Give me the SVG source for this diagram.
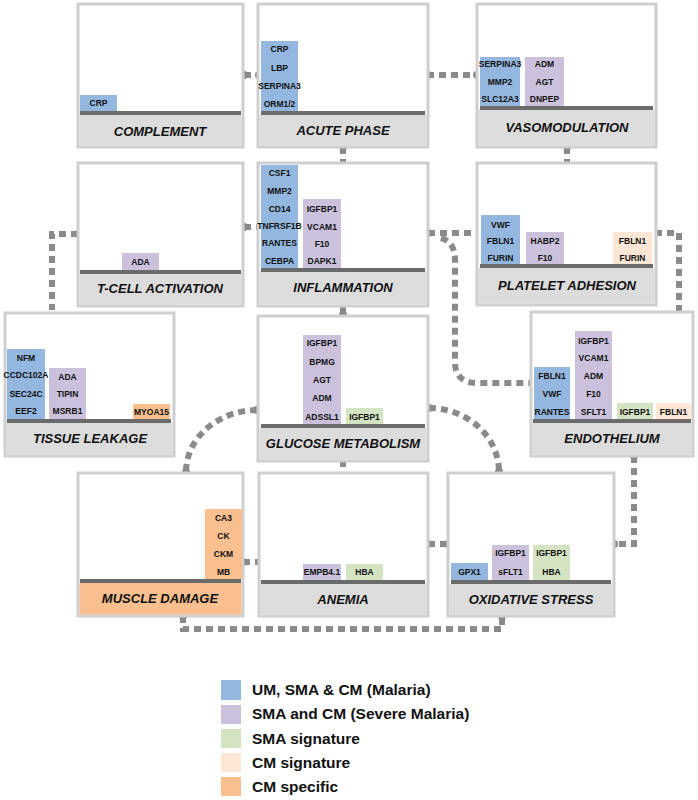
<svg xmlns="http://www.w3.org/2000/svg" width="698" height="800" viewBox="0 0 698 800">
<style>
.box{fill:#fff;stroke:#cfcfcf;stroke-width:3}
.lab{fill:#dcdcdc}
.base{fill:#6b6b6b}
.t{font-family:"Liberation Sans",Arial,sans-serif;font-weight:bold;font-size:8.5px;fill:#111;text-anchor:middle}
.L{font-family:"Liberation Sans",Arial,sans-serif;font-weight:bold;font-style:italic;font-size:13px;fill:#111;text-anchor:middle}
.lg{font-family:"Liberation Sans",Arial,sans-serif;font-weight:bold;font-size:15.5px;fill:#111}
.b{fill:#93b7df}.p{fill:#cbc1dc}.g{fill:#d4e4c3}.c{fill:#fde6d6}.o{fill:#f9bf8e}
.con{fill:none;stroke:#8a8a8a;stroke-width:6;stroke-dasharray:7 5}
.d{fill:#8a8a8a}
</style>
<g id="connectors">
<path class="con" d="M244 75 H260"/>
<path class="con" d="M427 75 H478"/>
<path class="con" d="M343 147 V162"/>
<path class="con" d="M567 147 V162"/>
<path class="con" d="M244 227 H260"/>
<path class="con" d="M78 234 H52 V310"/>
<path class="con" d="M428 233 H480"/>
<path class="con" d="M441 238 Q455 242 455 260 V362 Q455 383 478 383 H531"/>
<path class="con" d="M655 233 H679 V312"/>
<path class="con" d="M343 307 V315"/>
<path class="con" d="M343 460 V472"/>
<path class="con" d="M257 410 A72 62 0 0 0 186 472"/>
<path class="con" d="M429 408 A70 64 0 0 1 499 472"/>
<path class="con" d="M634 456 V544 H614"/>
<path class="con" d="M428 544 H448"/>
<path class="con" d="M243 562 H260"/>
<path class="con" d="M183 616 V629 H502 V616"/>
<g class="d">
<circle cx="244" cy="75" r="4"/><circle cx="259" cy="75" r="4"/>
<circle cx="428" cy="75" r="4"/><circle cx="477" cy="75" r="4"/>
<circle cx="343" cy="147" r="4"/><circle cx="567" cy="147" r="4"/>
<circle cx="244" cy="227" r="4"/><circle cx="78" cy="234" r="4"/>
<circle cx="428" cy="233" r="4"/><circle cx="655" cy="233" r="4"/>
<circle cx="343" cy="315" r="4"/><circle cx="343" cy="460" r="4"/>
<circle cx="257" cy="410" r="4"/><circle cx="186" cy="472" r="4"/>
<circle cx="429" cy="408" r="4"/><circle cx="499" cy="472" r="4"/>
<circle cx="634" cy="456" r="4"/><circle cx="614" cy="544" r="4"/>
<circle cx="428" cy="544" r="4"/><circle cx="448" cy="544" r="4"/>
<circle cx="243" cy="562" r="4"/><circle cx="260" cy="562" r="4"/>
<circle cx="183" cy="616" r="4"/><circle cx="502" cy="616" r="4"/>
</g>
</g>
<g id="complement">
<rect class="box" x="78" y="4" width="165" height="143"/>
<rect class="lab" x="79.5" y="114" width="162" height="31.5"/>
<rect class="b" x="80" y="95" width="37" height="16"/><text class="t" x="98.5" y="106">CRP</text>
<rect class="base" x="80" y="111" width="161" height="4"/>
<text class="L" x="160" y="136">COMPLEMENT</text>
</g>
<g id="acute-phase">
<rect class="box" x="258" y="4" width="170" height="143"/>
<rect class="lab" x="259.5" y="114" width="167" height="31.5"/>
<rect class="b" x="261" y="41" width="37" height="70"/>
<text class="t" x="279.5" y="52">CRP</text><text class="t" x="279.5" y="71">LBP</text><text class="t" x="279.5" y="89">SERPINA3</text><text class="t" x="279.5" y="107">ORM1/2</text>
<rect class="base" x="261" y="111" width="164" height="4"/>
<text class="L" x="343" y="135">ACUTE PHASE</text>
</g>
<g id="vasomodulation">
<rect class="box" x="477" y="4" width="179" height="143"/>
<rect class="lab" x="478.5" y="109" width="176" height="36.5"/>
<rect class="b" x="480" y="57" width="40" height="49"/>
<text class="t" x="500" y="67">SERPINA3</text><text class="t" x="500" y="85">MMP2</text><text class="t" x="500" y="102">SLC12A3</text>
<rect class="p" x="525" y="57" width="39" height="49"/>
<text class="t" x="544.5" y="67">ADM</text><text class="t" x="544.5" y="85">AGT</text><text class="t" x="544.5" y="102">DNPEP</text>
<rect class="base" x="480" y="106" width="173" height="4"/>
<text class="L" x="567" y="132">VASOMODULATION</text>
</g>
<g id="t-cell-activation">
<rect class="box" x="78" y="163" width="165" height="143"/>
<rect class="lab" x="79.5" y="273" width="162" height="31.5"/>
<rect class="p" x="122" y="253" width="37" height="17"/><text class="t" x="140.5" y="265">ADA</text>
<rect class="base" x="80" y="270" width="161" height="4"/>
<text class="L" x="160" y="293">T-CELL ACTIVATION</text>
</g>
<g id="inflammation">
<rect class="box" x="258" y="163" width="170" height="143"/>
<rect class="lab" x="259.5" y="271" width="167" height="33.5"/>
<rect class="b" x="261" y="165" width="37" height="103"/>
<text class="t" x="279.5" y="176">CSF1</text><text class="t" x="279.5" y="194">MMP2</text><text class="t" x="279.5" y="212">CD14</text><text class="t" x="279.5" y="229">TNFRSF1B</text><text class="t" x="279.5" y="246">RANTES</text><text class="t" x="279.5" y="264">CEBPA</text>
<rect class="p" x="303" y="199" width="38" height="69"/>
<text class="t" x="322" y="212">IGFBP1</text><text class="t" x="322" y="230">VCAM1</text><text class="t" x="322" y="247">F10</text><text class="t" x="322" y="264">DAPK1</text>
<rect class="base" x="261" y="268" width="164" height="4"/>
<text class="L" x="343" y="292">INFLAMMATION</text>
</g>
<g id="platelet-adhesion">
<rect class="box" x="477" y="163" width="179" height="142"/>
<rect class="lab" x="478.5" y="268" width="176" height="35.5"/>
<rect class="b" x="481" y="215" width="39" height="49"/>
<text class="t" x="500.5" y="228">VWF</text><text class="t" x="500.5" y="244">FBLN1</text><text class="t" x="500.5" y="261">FURIN</text>
<rect class="p" x="526" y="232" width="38" height="32"/>
<text class="t" x="545" y="244">HABP2</text><text class="t" x="545" y="261">F10</text>
<rect class="c" x="613" y="232" width="39" height="32"/>
<text class="t" x="632.5" y="244">FBLN1</text><text class="t" x="632.5" y="261">FURIN</text>
<rect class="base" x="480" y="264" width="173" height="4"/>
<text class="L" x="567" y="290">PLATELET ADHESION</text>
</g>
<g id="tissue-leakage">
<rect class="box" x="5" y="313" width="169" height="143"/>
<rect class="lab" x="6.5" y="423" width="166" height="31.5"/>
<rect class="b" x="7" y="349" width="38" height="70"/>
<text class="t" x="26" y="361">NFM</text><text class="t" x="26" y="378">CCDC102A</text><text class="t" x="26" y="397">SEC24C</text><text class="t" x="26" y="414">EEF2</text>
<rect class="p" x="49" y="368" width="37" height="51"/>
<text class="t" x="67.5" y="380">ADA</text><text class="t" x="67.5" y="397">TIPIN</text><text class="t" x="67.5" y="414">MSRB1</text>
<rect class="o" x="133" y="404" width="37" height="15"/><text class="t" x="151.5" y="415">MYOA15</text>
<rect class="base" x="7" y="419" width="164" height="4"/>
<text class="L" x="90" y="443">TISSUE LEAKAGE</text>
</g>
<g id="glucose-metabolism">
<rect class="box" x="258" y="316" width="170" height="145"/>
<rect class="lab" x="259.5" y="428" width="167" height="31.5"/>
<rect class="p" x="303" y="335" width="38" height="89"/>
<text class="t" x="322" y="346">IGFBP1</text><text class="t" x="322" y="365">BPMG</text><text class="t" x="322" y="383">AGT</text><text class="t" x="322" y="401">ADM</text><text class="t" x="322" y="420">ADSSL1</text>
<rect class="g" x="346" y="408" width="37" height="16"/><text class="t" x="364.5" y="420">IGFBP1</text>
<rect class="base" x="261" y="424" width="164" height="4"/>
<text class="L" x="343" y="448">GLUCOSE METABOLISM</text>
</g>
<g id="endothelium">
<rect class="box" x="531" y="312" width="162" height="144"/>
<rect class="lab" x="532.5" y="423" width="159" height="31.5"/>
<rect class="b" x="534" y="367" width="36" height="52"/>
<text class="t" x="552" y="379">FBLN1</text><text class="t" x="552" y="397">VWF</text><text class="t" x="552" y="415">RANTES</text>
<rect class="p" x="575" y="331" width="37" height="88"/>
<text class="t" x="593.5" y="344">IGFBP1</text><text class="t" x="593.5" y="361">VCAM1</text><text class="t" x="593.5" y="379">ADM</text><text class="t" x="593.5" y="397">F10</text><text class="t" x="593.5" y="415">SFLT1</text>
<rect class="g" x="617" y="403" width="36" height="16"/><text class="t" x="635" y="415">IGFBP1</text>
<rect class="c" x="656" y="403" width="35" height="16"/><text class="t" x="673.5" y="415">FBLN1</text>
<rect class="base" x="533" y="419" width="158" height="4"/>
<text class="L" x="612" y="443">ENDOTHELIUM</text>
</g>
<g id="muscle-damage">
<rect class="box" x="78" y="473" width="165" height="143"/>
<rect class="o" x="79.5" y="583" width="162" height="31.5"/>
<rect class="o" x="205" y="509" width="37" height="70"/>
<text class="t" x="223.5" y="521">CA3</text><text class="t" x="223.5" y="539">CK</text><text class="t" x="223.5" y="557">CKM</text><text class="t" x="223.5" y="575">MB</text>
<rect class="base" x="80" y="579" width="161" height="4"/>
<text class="L" x="160" y="603">MUSCLE DAMAGE</text>
</g>
<g id="anemia">
<rect class="box" x="259" y="473" width="169" height="143"/>
<rect class="lab" x="260.5" y="584" width="166" height="30.5"/>
<rect class="p" x="303" y="564" width="38" height="16"/><text class="t" x="322" y="575">EMPB4.1</text>
<rect class="g" x="346" y="564" width="37" height="16"/><text class="t" x="364.5" y="575">HBA</text>
<rect class="base" x="261" y="580" width="164" height="4"/>
<text class="L" x="343" y="604">ANEMIA</text>
</g>
<g id="oxidative-stress">
<rect class="box" x="448" y="473" width="166" height="143"/>
<rect class="lab" x="449.5" y="584" width="163" height="30.5"/>
<rect class="b" x="451" y="563" width="37" height="17"/><text class="t" x="469.5" y="575">GPX1</text>
<rect class="p" x="492" y="545" width="37" height="35"/>
<text class="t" x="510.5" y="556">IGFBP1</text><text class="t" x="510.5" y="575">sFLT1</text>
<rect class="g" x="533" y="545" width="37" height="35"/>
<text class="t" x="551.5" y="556">IGFBP1</text><text class="t" x="551.5" y="575">HBA</text>
<rect class="base" x="451" y="580" width="160" height="4"/>
<text class="L" x="531" y="604">OXIDATIVE STRESS</text>
</g>
<g id="legend">
<rect class="b" x="221" y="680" width="20" height="20"/><text class="lg" x="252" y="695">UM, SMA &amp; CM (Malaria)</text>
<rect class="p" x="221" y="705" width="20" height="19"/><text class="lg" x="252" y="719">SMA and CM (Severe Malaria)</text>
<rect class="g" x="221" y="729" width="20" height="19"/><text class="lg" x="252" y="744">SMA signature</text>
<rect class="c" x="221" y="753" width="20" height="19"/><text class="lg" x="252" y="768">CM signature</text>
<rect class="o" x="221" y="777" width="20" height="19"/><text class="lg" x="252" y="792">CM specific</text>
</g>
</svg>
